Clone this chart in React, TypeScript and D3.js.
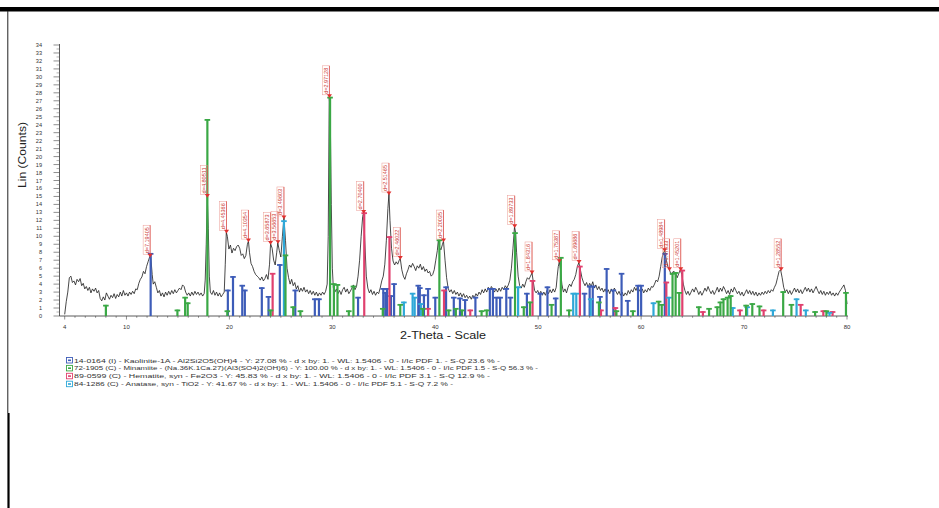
import React from "react";
import * as d3 from "d3";

// ---------- data ----------
const xTicks = [4, 10, 20, 30, 40, 50, 60, 70, 80];
const yTicks = d3.range(0, 35);

// measured pattern [2-theta, counts]
const pattern: [number, number][] = [
[4.0,0.2],[4.15,1.8],[4.3,3.0],[4.45,4.8],[4.6,5.0],[4.75,4.2],[4.9,4.4],[5.05,3.9],[5.2,4.6],[5.35,4.3],[5.5,4.7],[5.65,3.8],[5.8,4.1],[5.95,3.4],[6.1,3.7],[6.25,3.2],[6.4,3.6],[6.55,2.9],[6.7,3.4],[6.85,3.1],[7.0,3.5],[7.15,2.9],[7.3,3.2],[7.45,2.2],[7.6,1.9],[7.75,2.4],[7.9,2.0],[8.05,2.9],[8.2,2.5],[8.35,2.1],[8.5,2.6],[8.65,2.3],[8.8,2.8],[8.95,2.2],[9.1,2.7],[9.25,2.4],[9.4,3.0],[9.55,2.5],[9.7,3.2],[9.85,2.6],[10.0,2.9],[10.15,2.5],[10.3,3.0],[10.45,2.7],[10.6,3.1],[10.75,2.8],[10.9,3.4],[11.05,3.3],[11.2,4.1],[11.35,4.6],[11.5,4.9],[11.65,5.6],[11.8,5.3],[11.95,6.2],[12.1,6.8],[12.25,7.4],[12.35,7.6],[12.5,5.2],[12.6,4.0],[12.75,4.3],[12.9,3.6],[13.05,2.9],[13.2,3.2],[13.35,2.5],[13.5,2.9],[13.65,2.4],[13.8,3.0],[13.95,2.6],[14.1,3.1],[14.25,2.7],[14.4,3.2],[14.55,2.8],[14.7,3.3],[14.85,2.9],[15.0,3.2],[15.15,3.5],[15.3,3.3],[15.45,3.9],[15.6,3.7],[15.75,3.0],[15.9,2.6],[16.05,2.9],[16.2,2.5],[16.35,3.0],[16.5,2.6],[16.65,3.1],[16.8,2.7],[16.95,3.0],[17.1,2.6],[17.25,2.9],[17.4,2.5],[17.55,2.8],[17.65,4.5],[17.75,9.0],[17.85,15.0],[17.95,11.0],[18.05,5.0],[18.15,3.0],[18.3,2.7],[18.45,3.2],[18.6,2.6],[18.75,3.0],[18.9,2.5],[19.05,2.9],[19.2,2.4],[19.35,2.7],[19.5,3.0],[19.6,6.5],[19.7,10.5],[19.8,10.0],[19.95,8.4],[20.1,8.9],[20.25,7.9],[20.4,8.5],[20.55,8.2],[20.7,8.7],[20.85,8.9],[21.0,8.5],[21.15,7.6],[21.3,7.8],[21.45,7.2],[21.6,7.6],[21.75,9.0],[21.85,9.4],[21.95,8.0],[22.1,6.6],[22.25,6.2],[22.4,5.6],[22.55,5.2],[22.7,5.0],[22.85,4.8],[23.0,4.5],[23.15,4.9],[23.3,4.4],[23.45,4.7],[23.6,5.2],[23.75,4.6],[23.9,6.5],[24.0,9.1],[24.15,8.5],[24.3,7.0],[24.45,6.4],[24.6,8.0],[24.7,9.2],[24.85,8.2],[25.0,7.4],[25.15,10.0],[25.3,12.3],[25.45,9.5],[25.6,6.0],[25.75,4.8],[25.9,4.0],[26.05,4.6],[26.2,3.8],[26.35,4.2],[26.5,3.4],[26.65,3.8],[26.8,3.0],[26.95,3.5],[27.1,3.1],[27.25,3.6],[27.4,3.0],[27.55,3.3],[27.7,2.8],[27.85,3.2],[28.0,2.7],[28.15,3.1],[28.3,2.6],[28.45,3.0],[28.6,2.5],[28.75,2.9],[28.9,2.6],[29.05,3.0],[29.2,2.7],[29.35,3.1],[29.5,4.0],[29.6,10.0],[29.7,27.5],[29.8,25.0],[29.9,14.0],[30.0,6.0],[30.1,3.5],[30.25,3.0],[30.4,3.4],[30.55,2.8],[30.7,3.2],[30.85,2.7],[31.0,3.3],[31.15,3.6],[31.3,3.0],[31.45,3.4],[31.6,2.8],[31.75,3.1],[31.9,3.5],[32.05,3.9],[32.2,3.3],[32.35,3.7],[32.5,5.0],[32.65,7.0],[32.8,10.0],[32.95,12.5],[33.05,13.0],[33.15,9.5],[33.3,5.0],[33.45,3.5],[33.6,2.9],[33.75,3.3],[33.9,2.7],[34.05,3.1],[34.2,2.6],[34.35,3.0],[34.5,2.8],[34.65,3.5],[34.8,4.4],[34.95,5.0],[35.1,6.5],[35.25,9.5],[35.4,13.5],[35.5,15.3],[35.6,12.0],[35.75,8.5],[35.9,6.9],[36.05,6.4],[36.2,6.8],[36.35,6.5],[36.5,7.0],[36.6,7.2],[36.75,5.8],[36.9,5.0],[37.05,4.6],[37.2,5.3],[37.35,5.8],[37.5,6.4],[37.65,6.1],[37.8,6.6],[37.95,6.2],[38.1,5.7],[38.25,6.3],[38.4,6.0],[38.55,6.5],[38.7,5.8],[38.85,6.2],[39.0,5.6],[39.15,5.9],[39.3,5.4],[39.45,5.6],[39.6,5.0],[39.75,5.2],[39.9,5.8],[40.05,7.0],[40.2,8.2],[40.3,9.5],[40.4,8.6],[40.55,8.3],[40.7,9.0],[40.8,9.4],[40.95,7.0],[41.1,4.8],[41.25,3.5],[41.4,3.0],[41.55,3.3],[41.7,2.8],[41.85,3.2],[42.0,2.7],[42.15,3.0],[42.3,2.5],[42.45,2.9],[42.6,2.4],[42.75,2.8],[42.9,2.3],[43.05,2.6],[43.2,2.2],[43.35,2.5],[43.5,2.1],[43.65,2.6],[43.8,2.3],[43.95,2.8],[44.1,2.5],[44.25,3.0],[44.4,2.7],[44.55,3.3],[44.7,2.9],[44.85,3.4],[45.0,3.0],[45.15,3.6],[45.3,3.2],[45.45,3.7],[45.6,3.4],[45.75,3.0],[45.9,3.4],[46.05,3.0],[46.2,3.5],[46.35,3.1],[46.5,3.6],[46.65,3.3],[46.8,3.8],[46.95,3.5],[47.1,3.9],[47.25,4.5],[47.4,6.0],[47.55,8.5],[47.7,11.2],[47.8,10.5],[47.9,8.0],[48.05,5.0],[48.2,3.8],[48.35,3.5],[48.5,4.0],[48.65,3.6],[48.8,4.3],[48.95,4.8],[49.1,4.6],[49.25,5.0],[49.4,5.4],[49.5,4.5],[49.65,3.2],[49.8,2.9],[49.95,3.2],[50.1,2.7],[50.25,3.1],[50.4,2.6],[50.55,3.0],[50.7,2.6],[50.85,3.2],[51.0,2.8],[51.15,3.3],[51.3,2.9],[51.45,3.4],[51.6,3.0],[51.75,3.6],[51.85,5.0],[51.95,6.2],[52.05,6.8],[52.15,6.0],[52.3,4.0],[52.45,3.0],[52.6,3.4],[52.75,2.9],[52.9,3.6],[53.05,4.0],[53.2,3.7],[53.35,4.3],[53.5,4.6],[53.65,5.2],[53.8,6.2],[53.95,6.7],[54.1,5.8],[54.25,4.8],[54.4,4.2],[54.55,3.8],[54.7,4.2],[54.85,3.6],[55.0,4.1],[55.15,3.7],[55.3,4.3],[55.45,3.5],[55.6,3.9],[55.75,3.3],[55.9,3.7],[56.05,3.2],[56.2,3.5],[56.35,3.0],[56.5,3.4],[56.65,2.9],[56.8,3.3],[56.95,2.8],[57.1,3.4],[57.25,3.0],[57.4,3.5],[57.55,3.1],[57.7,2.7],[57.85,3.1],[58.0,2.6],[58.15,3.0],[58.3,2.5],[58.45,2.9],[58.6,2.6],[58.75,3.2],[58.9,2.8],[59.05,3.3],[59.2,3.0],[59.35,3.6],[59.5,3.2],[59.65,3.7],[59.8,3.3],[59.95,3.0],[60.1,3.4],[60.25,2.9],[60.4,3.3],[60.55,3.0],[60.7,3.5],[60.85,3.2],[61.0,3.7],[61.15,3.6],[61.3,4.0],[61.45,4.5],[61.6,4.3],[61.75,5.0],[61.9,6.2],[62.05,7.4],[62.2,8.0],[62.3,8.2],[62.45,7.0],[62.6,6.2],[62.75,5.8],[62.9,5.2],[63.05,5.5],[63.2,5.6],[63.35,5.4],[63.5,4.8],[63.65,5.3],[63.8,5.8],[63.95,5.2],[64.1,4.0],[64.25,3.2],[64.4,2.7],[64.55,3.1],[64.7,2.6],[64.85,3.0],[65.0,3.4],[65.15,3.0],[65.3,3.6],[65.45,3.2],[65.6,2.7],[65.75,3.1],[65.9,2.6],[66.05,3.0],[66.2,3.5],[66.35,3.1],[66.5,3.7],[66.65,3.2],[66.8,2.8],[66.95,3.2],[67.1,2.7],[67.25,3.1],[67.4,3.6],[67.55,3.0],[67.7,3.5],[67.85,3.1],[68.0,3.7],[68.15,3.3],[68.3,2.8],[68.45,3.2],[68.6,2.7],[68.75,3.4],[68.9,3.0],[69.05,3.6],[69.2,3.2],[69.35,2.8],[69.5,3.1],[69.65,2.6],[69.8,3.0],[69.95,2.5],[70.1,2.9],[70.25,3.3],[70.4,2.8],[70.55,3.2],[70.7,2.7],[70.85,3.1],[71.0,2.6],[71.15,3.0],[71.3,2.5],[71.45,2.9],[71.6,2.6],[71.75,3.0],[71.9,2.7],[72.05,3.1],[72.2,2.8],[72.35,3.2],[72.5,2.9],[72.65,3.3],[72.8,3.1],[72.95,3.6],[73.1,4.0],[73.25,4.8],[73.4,5.6],[73.55,5.8],[73.7,4.8],[73.85,3.6],[74.0,3.0],[74.15,3.3],[74.3,2.8],[74.45,3.2],[74.6,2.7],[74.75,3.1],[74.9,3.5],[75.05,3.0],[75.2,3.4],[75.35,2.9],[75.5,3.3],[75.65,2.8],[75.8,3.2],[75.95,3.6],[76.1,3.1],[76.25,3.5],[76.4,3.0],[76.55,3.4],[76.7,2.9],[76.85,3.3],[77.0,3.7],[77.15,3.2],[77.3,2.8],[77.45,3.2],[77.6,2.7],[77.75,3.1],[77.9,2.6],[78.05,3.0],[78.2,2.7],[78.35,3.1],[78.5,2.6],[78.65,2.9],[78.8,2.5],[78.95,2.9],[79.1,2.6],[79.25,3.0],[79.4,3.3],[79.55,3.6],[79.7,3.9],[79.85,3.2],[80.0,1.5]
];

// reference sticks per phase [2-theta, height]
const kaoliniteSticks: [number, number][] = [
[12.35,7.9],[19.85,3.3],[20.35,5.0],[21.25,3.9],[21.5,3.3],[23.15,3.6],[23.8,2.5],[24.9,6.5],[26.4,3.3],[28.3,2.2],[28.7,2.2],[32.5,2.4],[34.95,3.5],[35.15,3.0],[35.3,3.5],[35.7,2.6],[36.0,4.1],[38.35,3.9],[38.5,3.6],[38.9,2.7],[39.3,3.5],[40.0,2.4],[41.05,3.7],[41.8,2.4],[42.4,2.3],[42.9,2.1],[43.9,2.4],[45.3,3.5],[45.6,3.5],[45.95,2.4],[46.3,2.4],[46.9,3.5],[47.3,2.4],[48.9,2.9],[50.2,2.9],[50.9,3.7],[51.7,2.3],[54.5,2.9],[55.0,3.8],[55.3,3.8],[56.0,2.5],[56.65,6.0],[57.3,3.3],[58.1,5.4],[58.7,2.0],[59.7,3.9],[60.0,3.9],[62.3,7.9]
];
const minamiiteSticks: [number, number][] = [
[8.0,1.4],[14.95,0.8],[15.7,2.4],[15.95,1.7],[17.86,24.7],[19.8,0.7],[24.0,0.8],[25.45,7.7],[26.2,1.2],[26.9,0.7],[29.78,27.5],[30.15,4.1],[30.5,4.0],[31.6,0.7],[32.05,3.8],[34.9,1.0],[36.6,1.5],[38.8,1.0],[40.4,9.6],[41.3,0.8],[42.0,1.0],[42.6,0.8],[44.5,0.7],[45.0,0.8],[47.75,10.5],[48.6,1.2],[49.2,1.8],[51.3,1.5],[52.2,7.4],[53.0,0.8],[55.9,1.8],[57.6,0.7],[59.2,0.7],[61.7,1.9],[62.0,1.5],[63.05,5.4],[63.35,5.5],[63.7,3.0],[65.6,1.2],[66.6,1.0],[67.4,1.2],[67.7,1.8],[68.0,2.2],[68.4,2.4],[68.7,2.6],[70.2,1.4],[70.8,1.6],[71.5,1.3],[73.8,3.1],[74.6,1.5],[76.9,0.6],[78.0,0.7],[79.9,3.0]
];
const hematiteSticks: [number, number][] = [
[24.2,5.4],[33.1,13.0],[35.55,10.0],[39.3,1.0],[40.85,3.3],[43.4,0.8],[49.45,4.5],[54.05,6.3],[56.1,0.8],[57.5,1.1],[62.45,4.3],[64.0,5.8],[66.0,0.6],[69.6,0.8],[71.9,0.8],[75.5,1.5],[77.7,0.7],[78.6,0.6]
];
const anataseSticks: [number, number][] = [
[25.3,12.0],[36.95,1.8],[37.8,2.9],[38.0,2.4],[38.6,1.6],[48.05,3.7],[53.4,2.9],[53.7,2.9],[55.1,2.2],[61.2,1.7],[62.7,2.4],[68.9,1.1],[70.3,1.2],[72.8,0.8],[75.1,2.2],[76.0,0.8],[78.3,0.5]
];

const peakThetas = [12.3, 17.86, 19.72, 21.85, 24.0, 24.72, 25.3, 29.72, 33.05, 35.5, 36.6, 40.8, 47.72, 49.4, 52.05, 53.97, 62.28, 62.75, 63.85, 73.6];
const peakCounts = [7.5, 15.0, 10.5, 9.4, 9.1, 9.2, 12.3, 27.5, 13.0, 15.3, 7.2, 9.4, 11.2, 5.4, 6.8, 6.7, 8.2, 5.8, 5.8, 5.8];
const peakTexts = ["d=7.19405", "d=4.80511", "d=4.45366", "d=4.10354", "d=3.65873", "d=3.56653", "d=3.49603", "d=2.97128", "d=2.70400", "d=2.51465", "d=2.46022", "d=2.20035", "d=1.89733", "d=1.84316", "d=1.75387", "d=1.69686", "d=1.48984", "d=1.47633", "d=1.45201", "d=1.28552"];

const legendTexts = [
  "14-0164 (I) - Kaolinite-1A - Al2Si2O5(OH)4 - Y: 27.08 % - d x by: 1. - WL: 1.5406 - 0 - I/Ic PDF 1. - S-Q 23.6 % -",
  "72-1905 (C) - Minamiite - (Na.36K.1Ca.27)(Al3(SO4)2(OH)6) - Y: 100.00 % - d x by: 1. - WL: 1.5406 - 0 - I/Ic PDF 1.5 - S-Q 56.3 % -",
  "89-0599 (C) - Hematite, syn - Fe2O3 - Y: 45.83 % - d x by: 1. - WL: 1.5406 - 0 - I/Ic PDF 3.1 - S-Q 12.9 % -",
  "84-1286 (C) - Anatase, syn - TiO2 - Y: 41.67 % - d x by: 1. - WL: 1.5406 - 0 - I/Ic PDF 5.1 - S-Q 7.2 % -",
];
const legendColors = ["#3d5cb8", "#3aa845", "#e0406e", "#2fa8d8"];
const legendWidths = [426, 464, 416, 379];

// ---------- chart ----------
export default function App() {
  const W = 939, H = 508;
  const x = d3.scaleLinear().domain([4, 80]).range([64.7, 847]);
  const y = d3.scaleLinear().domain([0, 34]).range([316, 45]);
  const line = d3.line<[number, number]>().x(d => x(d[0])).y(d => y(d[1]));
  const phases: [[number, number][], string][] = [
    [kaoliniteSticks, legendColors[0]],
    [hematiteSticks, legendColors[2]],
    [anataseSticks, legendColors[3]],
    [minamiiteSticks, legendColors[1]],
  ];
  const font = "Arial, 'Liberation Sans', sans-serif";
  const minorX = d3.range(4, 81, 1);
  const halfY = d3.range(0.5, 34, 1);

  return (
    <svg width={W} height={H} style={{ position: "absolute", left: 0, top: 0, background: "#fff" }} fontFamily={font}>
      <rect x={0} y={0} width={W} height={H} fill="#fff" />
      {/* frame */}
      <rect x={0} y={7} width={W} height={4.5} fill="#000" />
      <line x1={7.8} x2={7.8} y1={11} y2={413} stroke="#222" strokeWidth={1} />
      <line x1={8.5} x2={8.5} y1={413} y2={H} stroke="#000" strokeWidth={2.2} />

      {/* y axis */}
      <line x1={59.5} x2={59.5} y1={y(34) - 1} y2={y(0)} stroke="#333" strokeWidth={0.8} />
      {yTicks.map(t => (
        <g key={"yt" + t}>
          <line x1={53.5} x2={59.5} y1={y(t)} y2={y(t)} stroke="#444" strokeWidth={0.6} />
          <text x={42} y={y(t) + 2} fontSize={5.6} textAnchor="end" fill="#333">{t}</text>
        </g>
      ))}
      {halfY.map(t => (
        <line key={"yh" + t} x1={56.5} x2={59.5} y1={y(t)} y2={y(t)} stroke="#666" strokeWidth={0.5} />
      ))}
      <text transform={`translate(26,155) rotate(-90)`} fontSize={10.5} textAnchor="middle" fill="#222" textLength={66} lengthAdjust="spacingAndGlyphs">Lin (Counts)</text>

      {/* x axis */}
      <line x1={59.5} x2={848} y1={y(0)} y2={y(0)} stroke="#333" strokeWidth={0.8} />
      {minorX.map(t => (
        <line key={"xm" + t} x1={x(t)} x2={x(t)} y1={y(0)} y2={y(0) + (t % 10 === 0 || t === 4 ? 3.5 : 1.8)} stroke="#444" strokeWidth={0.6} />
      ))}
      {xTicks.map(t => (
        <text key={"xt" + t} x={x(t)} y={328.5} fontSize={6} textAnchor="middle" fill="#333">{t}</text>
      ))}
      <text x={443} y={339} fontSize={10} textAnchor="middle" fill="#222" textLength={86} lengthAdjust="spacingAndGlyphs">2-Theta - Scale</text>

      {/* pattern */}
      <path d={line(pattern) || ""} fill="none" stroke="#1a1a1a" strokeWidth={0.8} strokeLinejoin="round" />

      {/* sticks */}
      {phases.map(([arr, col], pi) => (
        <g key={"ph" + pi}>
          {arr.map(([t, h], i) => (
            <g key={i}>
              <line x1={x(t)} x2={x(t)} y1={y(0)} y2={y(h)} stroke={col} strokeWidth={2.2} />
              <line x1={x(t) - 2.8} x2={x(t) + 2.8} y1={y(h) + 0.8} y2={y(h) + 0.8} stroke={col} strokeWidth={1.8} />
            </g>
          ))}
        </g>
      ))}

      {/* peak labels */}
      {peakThetas.map((t, i) => {
        const px = x(t);
        const py = y(peakCounts[i]);
        const top = py - 31;
        return (
          <g key={"pk" + i}>
            <rect x={px - 7} y={top} width={7} height={29} fill="none" stroke="#ec9a94" strokeWidth={0.5} />
            <line x1={px} x2={px} y1={top} y2={py} stroke="#d9443c" strokeWidth={0.7} />
            <text transform={`translate(${px - 1.6},${py - 3}) rotate(-90)`} fontSize={6} fill="#cc3a33" textLength={26} lengthAdjust="spacingAndGlyphs">{peakTexts[i]}</text>
            <path d={`M${px - 2.5},${py - 2.5}L${px + 2.5},${py - 2.5}L${px},${py + 1.2}Z`} fill="#e0302f" />
          </g>
        );
      })}

      {/* legend */}
      {legendTexts.map((s, i) => {
        const ly = 360.5 + i * 7.9;
        return (
          <g key={"lg" + i}>
            <rect x={66.5} y={ly - 3} width={6} height={5.5} fill="#fff" stroke={legendColors[i]} strokeWidth={0.9} />
            <rect x={68} y={ly - 1} width={3} height={1.6} fill={legendColors[i]} />
            <text x={74} y={ly + 2} fontSize={6.2} fill="#333" textLength={legendWidths[i]} lengthAdjust="spacingAndGlyphs">{s}</text>
          </g>
        );
      })}
    </svg>
  );
}
